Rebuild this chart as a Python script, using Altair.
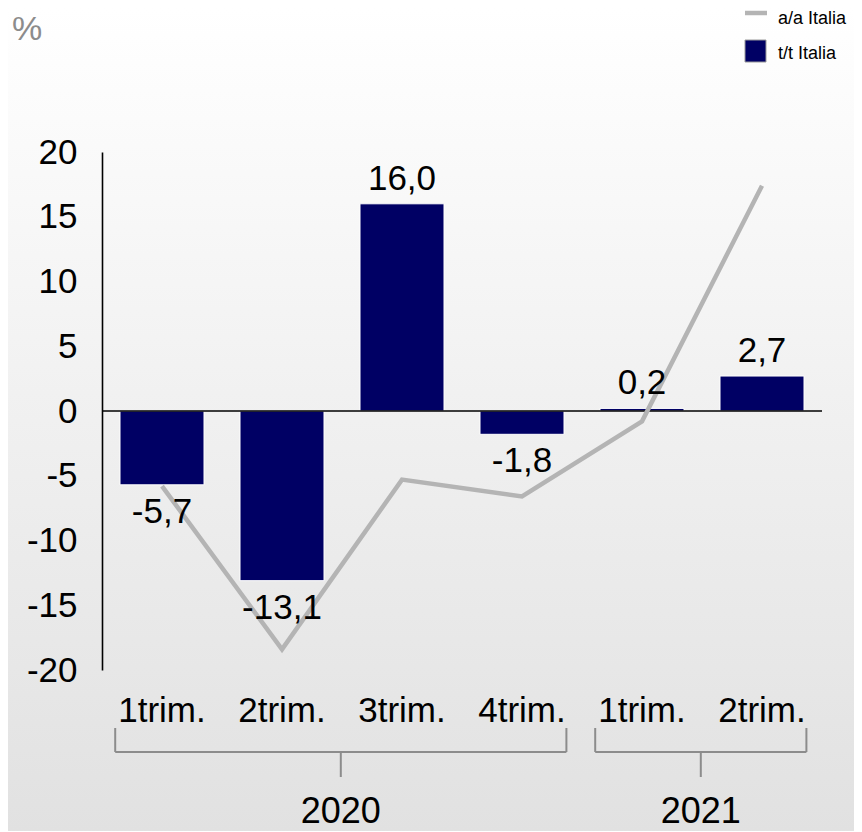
import altair as alt
import pandas as pd

# ---- data ----
quarters = ["1trim.", "2trim.", "3trim.", "4trim.", "1trim.", "2trim."]
quarter_years = ["2020", "2020", "2020", "2020", "2021", "2021"]
tt_italia = [-5.7, -13.1, 16.0, -1.8, 0.2, 2.7]
aa_italia = [-5.8, -18.4, -5.3, -6.6, -0.8, 17.4]
year_labels = ["2020", "2021"]
year_first = [0, 4]
year_last = [3, 5]
y_ticks = [20, 15, 10, 5, 0, -5, -10, -15, -20]
legend_labels = ["a/a Italia", "t/t Italia"]
unit_label = "%"

NAVY = "#000064"
GREY_LINE = "#b4b4b4"
BRACKET = "#8c8c8c"
FONT = "Liberation Sans"

df = pd.DataFrame({
    "pos": list(range(len(quarters))),
    "trim": quarters,
    "year": quarter_years,
    "tt": tt_italia,
    "aa": aa_italia,
})
brk = pd.DataFrame({"year": year_labels, "first": year_first, "last": year_last})
one = pd.DataFrame({"k": [0]})

xs = alt.Scale(domain=[0, len(quarters)], nice=False, zero=False)
ys = alt.Scale(domain=[-20, 20], nice=False, zero=False)

base = alt.Chart(df).transform_calculate(
    x0="datum.pos + 0.15",
    x1="datum.pos + 0.85",
    xc="datum.pos + 0.5",
    lab="(datum.tt < 0 ? '-' : '') + replace(format(abs(datum.tt), '.1f'), '.', ',')",
)

gradient = alt.Gradient(
    gradient="linear",
    stops=[alt.GradientStop(color="#ffffff", offset=0),
           alt.GradientStop(color="#e1e1e1", offset=1)],
    x1=0, x2=0, y1=0, y2=1,
)
bg = alt.Chart(one).mark_rect(fill=gradient, strokeWidth=0).encode(
    x=alt.value(-94), x2=alt.value(760), y=alt.value(-144), y2=alt.value(680)
)

bars = base.mark_rect(color=NAVY, stroke="white", strokeWidth=1).encode(
    x=alt.X("x0:Q", scale=xs, axis=None),
    x2="x1:Q",
    y=alt.Y("tt:Q", scale=ys, title=None,
            axis=alt.Axis(values=y_ticks, grid=False, ticks=False, domain=True,
                          domainColor="black", domainWidth=1.6,
                          labelExpr="(datum.value < 0 ? '-' : '') + abs(datum.value)",
                          labelFontSize=35, labelFont=FONT, labelColor="black",
                          labelPadding=25, zindex=1)),
    y2=alt.datum(0),
)

zero = alt.Chart(one).mark_rule(color="black", strokeWidth=1.6).encode(
    x=alt.datum(0, scale=xs), x2=alt.datum(len(quarters)), y=alt.datum(0, scale=ys)
)

line = base.mark_line(color=GREY_LINE, strokeWidth=4.5).encode(
    x=alt.X("xc:Q", scale=xs), y=alt.Y("aa:Q", scale=ys)
)

lab_pos = base.transform_filter("datum.tt >= 0").mark_text(
    font=FONT, fontSize=35, color="black", baseline="alphabetic", dy=-14
).encode(x=alt.X("xc:Q", scale=xs), y=alt.Y("tt:Q", scale=ys), text="lab:N")

lab_neg = base.transform_filter("datum.tt < 0").mark_text(
    font=FONT, fontSize=35, color="black", baseline="alphabetic", dy=38
).encode(x=alt.X("xc:Q", scale=xs), y=alt.Y("tt:Q", scale=ys), text="lab:N")

trims = base.mark_text(
    font=FONT, fontSize=35, color="black", baseline="alphabetic"
).encode(x=alt.X("xc:Q", scale=xs), y=alt.value(570), text="trim:N")

bbase = alt.Chart(brk).transform_calculate(
    s="datum.first + 0.11",
    e="datum.last + 0.87",
    m="(datum.first + 0.11 + datum.last + 0.87) / 2",
)
br_left = bbase.mark_rule(color=BRACKET, strokeWidth=2).encode(
    x=alt.X("s:Q", scale=xs), y=alt.value(576), y2=alt.value(600))
br_right = bbase.mark_rule(color=BRACKET, strokeWidth=2).encode(
    x=alt.X("e:Q", scale=xs), y=alt.value(576), y2=alt.value(600))
br_h = bbase.mark_rule(color=BRACKET, strokeWidth=2).encode(
    x=alt.X("s:Q", scale=xs), x2="e:Q", y=alt.value(600))
br_mid = bbase.mark_rule(color=BRACKET, strokeWidth=2).encode(
    x=alt.X("m:Q", scale=xs), y=alt.value(600), y2=alt.value(625))
years = bbase.mark_text(
    font=FONT, fontSize=36, color="black", baseline="alphabetic"
).encode(x=alt.X("m:Q", scale=xs), y=alt.value(671), text="year:N")

leg_line = alt.Chart(one).mark_rule(color=GREY_LINE, strokeWidth=4.5).encode(
    x=alt.value(643), x2=alt.value(665), y=alt.value(-139))
leg_box = alt.Chart(one).mark_rect(color=NAVY, stroke="#9a9a9a", strokeWidth=1).encode(
    x=alt.value(643), x2=alt.value(664), y=alt.value(-112), y2=alt.value(-90))
leg_t1 = alt.Chart(one).mark_text(
    font=FONT, fontSize=18, color="black", align="left", baseline="alphabetic"
).encode(x=alt.value(676), y=alt.value(-128), text=alt.value(legend_labels[0]))
leg_t2 = alt.Chart(one).mark_text(
    font=FONT, fontSize=18, color="black", align="left", baseline="alphabetic"
).encode(x=alt.value(676), y=alt.value(-93), text=alt.value(legend_labels[1]))

pct = alt.Chart(one).mark_text(
    font=FONT, fontSize=34, color="#8c8c8c", align="left", baseline="alphabetic"
).encode(x=alt.value(-90), y=alt.value(-112), text=alt.value(unit_label))

chart = alt.layer(
    bg, bars, zero, line, lab_pos, lab_neg, trims,
    br_left, br_right, br_h, br_mid, years,
    leg_line, leg_box, leg_t1, leg_t2, pct,
).properties(
    width=720, height=518,
    autosize=alt.AutoSizeParams(type="none"),
    padding={"left": 94, "top": 144, "right": 32, "bottom": 161},
).configure_view(stroke=None).configure(background="white")

chart.save("out.html", embed_options={"renderer": "svg", "actions": False})
